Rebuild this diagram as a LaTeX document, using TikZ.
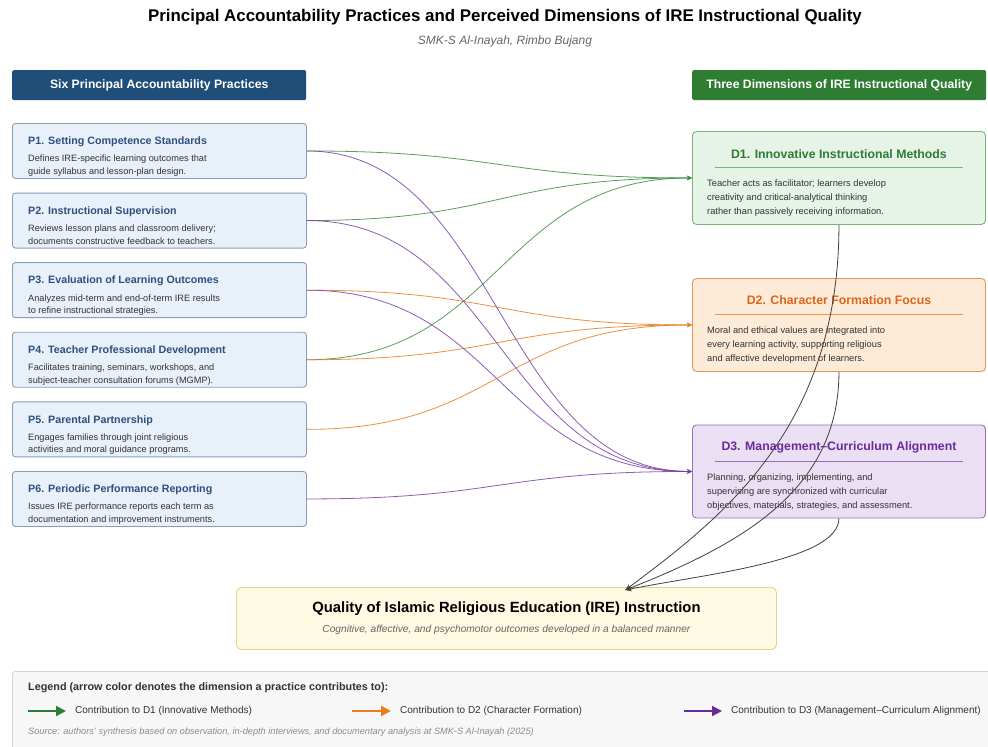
\documentclass[tikz,border=0pt]{standalone}
\usepackage{fontspec}
\setmainfont{Liberation Sans}
\usetikzlibrary{arrows.meta,calc}

\definecolor{navy}{HTML}{1F4E79}
\definecolor{dgreen}{HTML}{2E7D32}
\definecolor{pfill}{HTML}{E8F0FA}
\definecolor{pborder}{HTML}{8A9DB5}
\definecolor{ptext}{HTML}{2F4F7F}
\definecolor{gfill}{HTML}{E6F3E7}
\definecolor{gborder}{HTML}{7DB07F}
\definecolor{gtext}{HTML}{2E7D32}
\definecolor{ofill}{HTML}{FDEBD8}
\definecolor{oborder}{HTML}{E8955A}
\definecolor{otext}{HTML}{D9661A}
\definecolor{vfill}{HTML}{EADFF3}
\definecolor{vborder}{HTML}{9470B5}
\definecolor{vtext}{HTML}{6A2A9A}
\definecolor{yfill}{HTML}{FEF9E3}
\definecolor{yborder}{HTML}{E5D38E}
\definecolor{lgfill}{HTML}{F7F7F7}
\definecolor{lgborder}{HTML}{D5D5D5}
\definecolor{cgreen}{HTML}{3C8C40}
\definecolor{corange}{HTML}{E67E22}
\definecolor{cpurple}{HTML}{7B3FA6}
\definecolor{bodytxt}{HTML}{333333}
\definecolor{graytxt}{HTML}{666666}

\begin{document}
\begin{tikzpicture}[x=1pt,y=-1pt,
  header/.style={rounded corners=1.5pt, minimum width=294pt, minimum height=30pt, inner sep=0,
    anchor=north west, text=white, font=\bfseries\fontsize{12.2}{14}\selectfont},
  pbox/.style={draw=pborder, fill=pfill, rounded corners=3pt, line width=0.9pt,
    minimum width=294pt, minimum height=55pt, inner sep=0, anchor=north west},
  ptitle/.style={anchor=west, inner sep=0, text=ptext, font=\bfseries\fontsize{10.7}{12}\selectfont},
  pdesc/.style={anchor=west, inner sep=0, text=bodytxt, font=\fontsize{9.2}{11}\selectfont},
  dbox/.style={rounded corners=4pt, line width=0.9pt, minimum width=293pt, minimum height=93pt,
    inner sep=0, anchor=north west},
  dtitle/.style={anchor=center, inner sep=0, font=\bfseries\fontsize{12.3}{14}\selectfont},
  ddesc/.style={anchor=west, inner sep=0, text=bodytxt, font=\fontsize{9.3}{11}\selectfont},
  link/.style={line width=0.8pt, opacity=0.85, -{Stealth[length=5pt,width=4.5pt]}},
  qlink/.style={line width=0.8pt, draw=black!75, -{Stealth[length=6pt,width=5pt]}},
  legarrow/.style={line width=2pt, -{Triangle[length=10pt,width=10pt]}},
  legtxt/.style={anchor=west, inner sep=0, text=bodytxt, font=\fontsize{10}{12}\selectfont}
]
\useasboundingbox (0,0) rectangle (988,747);
\fill[white] (0,0) rectangle (988,747);

% title block
\node[font=\bfseries\fontsize{16.9}{19}\selectfont, inner sep=0] (title) at (505,17)
  {Principal Accountability Practices and Perceived Dimensions of IRE Instructional Quality};
\node[font=\itshape\fontsize{12}{14}\selectfont, text=graytxt, inner sep=0] (subtitle) at (505,41)
  {SMK-S Al-Inayah, Rimbo Bujang};

% column headers
\node[header, fill=navy] (hleft) at (12,70) {Six Principal Accountability Practices};
\node[header, fill=dgreen] (hright) at (692,70) {Three Dimensions of IRE Instructional Quality};

% six practices
\foreach \i/\t/\ttl/\la/\lb in {
  1/123/{P1. Setting Competence Standards}/{Defines IRE-specific learning outcomes that}/{guide syllabus and lesson-plan design.},
  2/192.6/{P2. Instructional Supervision}/{Reviews lesson plans and classroom delivery;}/{documents constructive feedback to teachers.},
  3/262.2/{P3. Evaluation of Learning Outcomes}/{Analyzes mid-term and end-of-term IRE results}/{to refine instructional strategies.},
  4/331.8/{P4. Teacher Professional Development}/{Facilitates training, seminars, workshops, and}/{subject-teacher consultation forums (MGMP).},
  5/401.4/{P5. Parental Partnership}/{Engages families through joint religious}/{activities and moral guidance programs.},
  6/471/{P6. Periodic Performance Reporting}/{Issues IRE performance reports each term as}/{documentation and improvement instruments.}} {
  \node[pbox] (P\i) at (12,\t) {};
  \node[ptitle] (P\i title) at (28,\t+19) {\ttl};
  \node[pdesc] (P\i la) at (28,\t+36.5) {\la};
  \node[pdesc] (P\i lb) at (28,\t+49) {\lb};
}

% three dimensions
\node[dbox, draw=gborder, fill=gfill] (D1) at (692,131) {};
\node[dbox, draw=oborder, fill=ofill] (D2) at (692,278) {};
\node[dbox, draw=vborder, fill=vfill] (D3) at (692,424.5) {};

\node[dtitle, text=gtext] (D1title) at ($(D1.north)+(0,23)$) {D1. Innovative Instructional Methods};
\draw[gborder, line width=0.7pt] ($(D1.north west)+(23,36)$) -- ($(D1.north east)+(-23,36)$);
\node[ddesc] (D1a) at ($(D1.north west)+(15,53.5)$) {Teacher acts as facilitator; learners develop};
\node[ddesc] (D1b) at ($(D1.north west)+(15,67.5)$) {creativity and critical-analytical thinking};
\node[ddesc] (D1c) at ($(D1.north west)+(15,81.5)$) {rather than passively receiving information.};

\node[dtitle, text=otext] (D2title) at ($(D2.north)+(0,22.5)$) {D2. Character Formation Focus};
\draw[oborder, line width=0.7pt] ($(D2.north west)+(23,36.5)$) -- ($(D2.north east)+(-23,36.5)$);
\node[ddesc] (D2a) at ($(D2.north west)+(15,53)$) {Moral and ethical values are integrated into};
\node[ddesc] (D2b) at ($(D2.north west)+(15,67.5)$) {every learning activity, supporting religious};
\node[ddesc] (D2c) at ($(D2.north west)+(15,81.5)$) {and affective development of learners.};

\node[dtitle, text=vtext] (D3title) at ($(D3.north)+(0,22.5)$) {D3. Management--Curriculum Alignment};
\draw[vborder, line width=0.7pt] ($(D3.north west)+(23,37)$) -- ($(D3.north east)+(-23,37)$);
\node[ddesc] (D3a) at ($(D3.north west)+(15,53.5)$) {Planning, organizing, implementing, and};
\node[ddesc] (D3b) at ($(D3.north west)+(15,67.5)$) {supervising are synchronized with curricular};
\node[ddesc] (D3c) at ($(D3.north west)+(15,81.5)$) {objectives, materials, strategies, and assessment.};

% outcome box
\node[draw=yborder, fill=yfill, rounded corners=5pt, line width=0.9pt, minimum width=540pt,
  minimum height=62pt, inner sep=0, anchor=north west] (Q) at (236,587) {};
\node[font=\bfseries\fontsize{14.8}{17}\selectfont, inner sep=0] (Qtitle) at ($(Q.north)+(0,22)$)
  {Quality of Islamic Religious Education (IRE) Instruction};
\node[font=\itshape\fontsize{10.2}{12}\selectfont, text=graytxt, inner sep=0] (Qsub) at ($(Q.north)+(0,43)$)
  {Cognitive, affective, and psychomotor outcomes developed in a balanced manner};

% practice -> dimension links
\foreach \p/\d/\c in {1/1/cgreen, 2/1/cgreen, 4/1/cgreen,
                      3/2/corange, 4/2/corange, 5/2/corange,
                      1/3/cpurple, 2/3/cpurple, 3/3/cpurple, 6/3/cpurple} {
  \draw[link, color=\c] (P\p.east) .. controls +(192,0) and +(-192,0) .. (D\d.west);
}

% dimension -> outcome links
\coordinate (qin) at ($(Q.north)+(119,3)$);
\draw[qlink] (D1.south) .. controls +(0,206) and +(93,-70) .. (qin);
\draw[qlink] (D2.south) .. controls +(0,120) and +(113,-45) .. (qin);
\draw[qlink] (D3.south) .. controls +(0,43) and +(73,-15) .. (qin);

% legend
\node[draw=lgborder, fill=lgfill, rounded corners=3pt, line width=0.8pt, minimum width=980pt,
  minimum height=95pt, inner sep=0, anchor=north west] (legend) at (12,671) {};
\node[anchor=west, inner sep=0, text=bodytxt, font=\bfseries\fontsize{10.8}{13}\selectfont] (legtitle)
  at (28,688) {Legend (arrow color denotes the dimension a practice contributes to):};
\coordinate (lg1s) at (28,711);  \coordinate (lg1e) at (66,711);
\coordinate (lg2s) at (352,711); \coordinate (lg2e) at (391,711);
\coordinate (lg3s) at (684,711); \coordinate (lg3e) at (722,711);
\draw[legarrow, color=dgreen] (lg1s) -- (lg1e);
\draw[legarrow, color=corange] (lg2s) -- (lg2e);
\draw[legarrow, color=vtext] (lg3s) -- (lg3e);
\node[legtxt] (leg1) at (75,711) {Contribution to D1 (Innovative Methods)};
\node[legtxt] (leg2) at (400,711) {Contribution to D2 (Character Formation)};
\node[legtxt] (leg3) at (731,711) {Contribution to D3 (Management--Curriculum Alignment)};
\node[anchor=west, inner sep=0, text=black!45, font=\itshape\fontsize{9.2}{11}\selectfont] (source)
  at (28,732) {Source: authors' synthesis based on observation, in-depth interviews, and documentary analysis at SMK-S Al-Inayah (2025)};
\end{tikzpicture}
\end{document}
